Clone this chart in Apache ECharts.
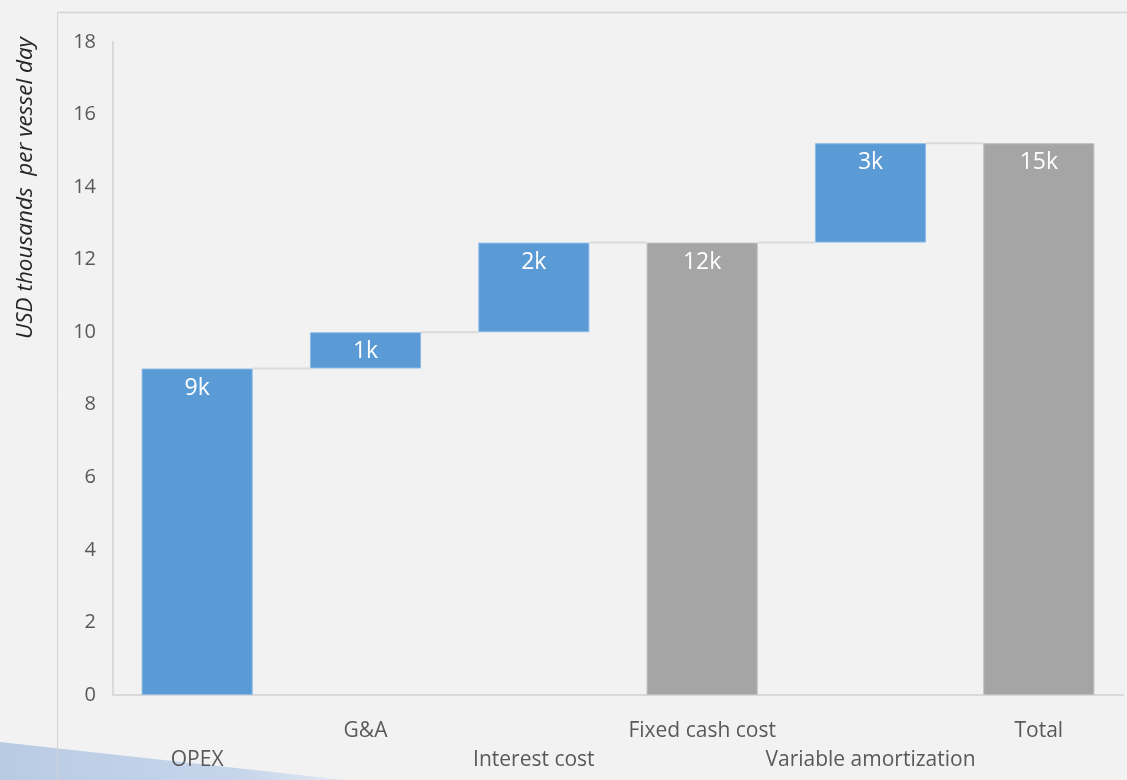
<!DOCTYPE html>
<html>
<head>
<meta charset="utf-8">
<script src="https://cdn.jsdelivr.net/npm/echarts@6/dist/echarts.min.js"></script>
<style>
html,body{margin:0;padding:0;background:#f2f2f2;}
#chart{width:1127px;height:780px;}
</style>
</head>
<body>
<div id="chart"></div>
<script>
var categories = ['OPEX', 'G&A', 'Interest cost', 'Fixed cash cost', 'Variable amortization', 'Total'];
var stepValues = [9.0, 1.0, 2.47, 12.47, 2.74, 15.21];
var isTotal = [false, false, false, true, false, true];
var yTicks = [0, 2, 4, 6, 8, 10, 12, 14, 16, 18];
var yAxisTitle = 'USD thousands  per vessel day';

var BLUE = '#5b9bd5', GRAY = '#a5a5a5';

// compute base (invisible) offsets for waterfall
var bases = [], running = 0;
for (var i = 0; i < stepValues.length; i++) {
  if (isTotal[i]) { bases.push(0); running = stepValues[i]; }
  else { bases.push(running); running += stepValues[i]; }
}
var tops = stepValues.map(function (v, i) { return bases[i] + v; });
var connectors = [];
for (var j = 0; j < categories.length - 1; j++) connectors.push([j, tops[j]]);

var chart = echarts.init(document.getElementById('chart'), null, {renderer: 'canvas'});
var FONT = '"Open Sans", sans-serif';

chart.setOption({
  backgroundColor: '#f2f2f2',
  animation: false,
  textStyle: {fontFamily: FONT},
  grid: {left: 113, right: 4, top: 42, bottom: 85, containLabel: false},
  graphic: [
    {type: 'polygon', z: -10, silent: true,
     shape: {points: [[0, 742], [345, 780], [0, 780]]},
     style: {fill: new echarts.graphic.LinearGradient(0, 0, 1, 0, [
       {offset: 0, color: '#b9cbe3'}, {offset: 0.7, color: '#c6d5ea'}, {offset: 1, color: '#e3e9f1'}])}},
    {type: 'line', z: -5, silent: true, shape: {x1: 57.5, y1: 12.5, x2: 1127, y2: 12.5},
     style: {stroke: '#d4d4d4', lineWidth: 1.5}},
    {type: 'line', z: -5, silent: true, shape: {x1: 57.5, y1: 12.5, x2: 57.5, y2: 780},
     style: {stroke: '#d4d4d4', lineWidth: 1}},
    {type: 'text', x: 26, y: 188, rotation: Math.PI / 2,
     style: {text: yAxisTitle, font: 'italic 22.5px ' + FONT, fill: '#262626',
             textAlign: 'center', textVerticalAlign: 'middle'}}
  ],
  xAxis: {
    type: 'category',
    data: categories,
    axisLine: {lineStyle: {color: '#d9d9d9', width: 2}},
    axisTick: {show: false},
    axisLabel: {
      interval: 0, margin: 22, color: '#595959', fontSize: 21, lineHeight: 29,
      formatter: function (v, i) { return i % 2 === 0 ? '\n' + v : v; }
    }
  },
  yAxis: {
    type: 'value', min: 0, max: 18, interval: 2,
    axisLine: {show: true, lineStyle: {color: '#d9d9d9', width: 2}},
    axisTick: {show: false},
    splitLine: {show: false},
    axisLabel: {margin: 17, color: '#595959', fontSize: 20,
      formatter: function (v) { return yTicks.indexOf(v) >= 0 ? String(v) : ''; }}
  },
  series: [
    {
      type: 'bar', stack: 'w', silent: true,
      itemStyle: {color: 'transparent'},
      data: bases, barCategoryGap: '34%'
    },
    {
      type: 'bar', stack: 'w',
      barCategoryGap: '34%',
      data: stepValues.map(function (v, i) {
        return {value: v, itemStyle: {color: isTotal[i] ? GRAY : BLUE,
          borderColor: isTotal[i] ? '#bdbdbd' : '#8dbbe6', borderWidth: 1}};
      }),
      label: {
        show: true, position: 'insideTop', distance: 8, color: '#ffffff', fontSize: 23,
        formatter: function (p) { return Math.round(p.value) + 'k'; }
      }
    },
    {
      type: 'custom', silent: true, z: 1,
      data: connectors,
      renderItem: function (params, api) {
        var idx = api.value(0), y = api.value(1);
        var p1 = api.coord([idx, y]);
        var p2 = api.coord([idx + 1, y]);
        var band = api.size([1, 0])[0];
        var half = band * 0.66 / 2;
        return {
          type: 'line',
          shape: {x1: p1[0] + half, y1: p1[1], x2: p2[0] - half, y2: p2[1]},
          style: {stroke: '#dadada', lineWidth: 2}
        };
      }
    }
  ]
});
</script>
</body>
</html>
